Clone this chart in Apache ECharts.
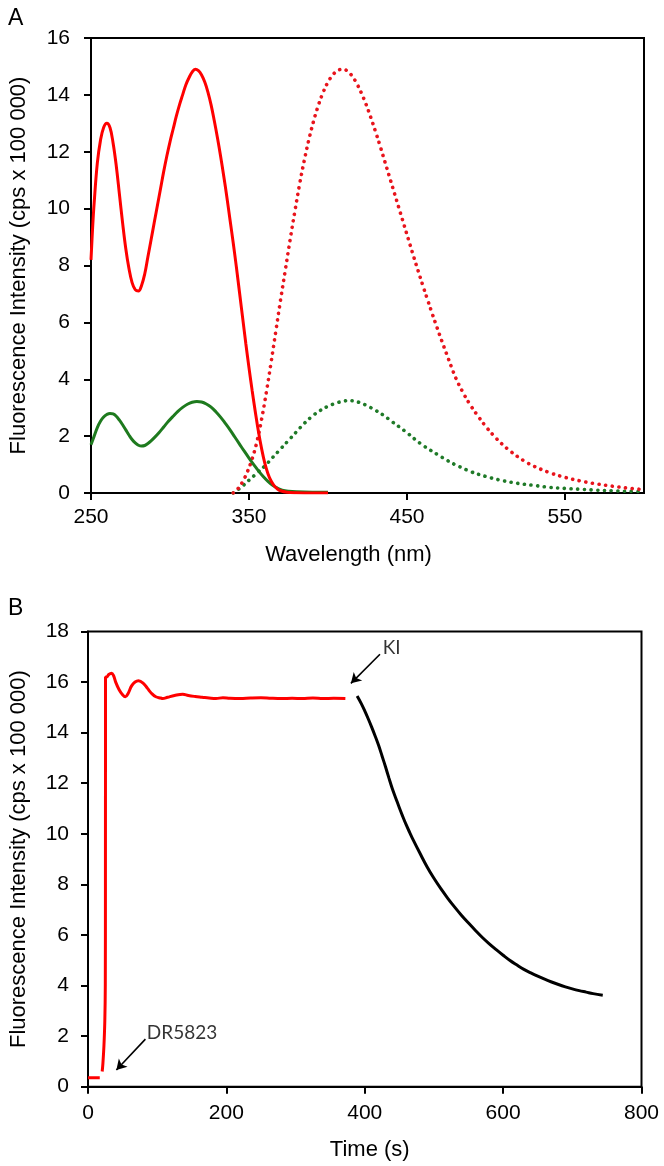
<!DOCTYPE html>
<html>
<head>
<meta charset="utf-8">
<script src="https://cdn.jsdelivr.net/npm/echarts@6/dist/echarts.min.js"></script>
<style>html,body{margin:0;padding:0;background:#fff}#c{width:664px;height:1166px}</style>
</head>
<body>
<div id="c"></div>
<script>
// ---------- Panel A data (wavelength nm, intensity x 100 000 cps) ----------
const excRedX = [250,251,252,254,256,258,260,262,264,266,268,270,272,274,276,278,280,282,284,286,288,290,292,294,296,298,300,302,304,306,308,310,312,314,316,318,320,322,324,326,328,330,332,334,336,338,340,342,344,346,348,350,352,354,356,358,360,362,364,366,368,370,374,380,390,400];
const excRedY = [8.2,9.3,10.2,11.6,12.4,12.85,13.0,12.85,12.3,11.5,10.5,9.5,8.6,7.9,7.4,7.15,7.1,7.3,7.7,8.3,8.9,9.5,10.1,10.7,11.3,11.85,12.35,12.8,13.25,13.65,14.0,14.35,14.6,14.8,14.9,14.85,14.7,14.45,14.1,13.65,13.1,12.5,11.85,11.15,10.4,9.6,8.8,7.95,7.05,6.15,5.25,4.4,3.6,2.85,2.15,1.55,1.05,0.68,0.42,0.25,0.14,0.08,0.03,0.01,0.0,0.0];

const excGreenX = [250,252,254,256,258,260,262,264,266,268,270,272,274,276,278,280,282,284,286,288,290,293,296,299,302,305,308,311,314,317,320,323,326,329,332,335,338,341,344,347,350,353,356,359,362,365,368,371,375,380,390,400];
const excGreenY = [1.7,2.0,2.3,2.52,2.67,2.76,2.8,2.78,2.7,2.56,2.4,2.22,2.04,1.88,1.76,1.68,1.65,1.67,1.74,1.83,1.94,2.12,2.32,2.52,2.7,2.87,3.01,3.12,3.19,3.22,3.2,3.13,3.02,2.86,2.67,2.45,2.22,1.97,1.72,1.47,1.23,1.0,0.78,0.58,0.41,0.27,0.17,0.1,0.06,0.04,0.03,0.03];

const emRedX = [340,343,346,349,352,355,358,361,364,367,370,373,376,379,382,385,388,391,394,397,400,403,406,409,412,415,418,421,424,427,430,433,436,439,442,445,448,451,454,457,460,463,466,469,472,475,478,481,485,490,495,500,505,510,515,520,525,530,540,550,560,570,580,590,600];
const emRedY = [0,0.15,0.4,0.75,1.2,1.8,2.6,3.55,4.6,5.7,6.8,7.85,8.9,9.9,10.85,11.7,12.45,13.1,13.65,14.1,14.45,14.7,14.85,14.9,14.85,14.68,14.42,14.08,13.68,13.22,12.72,12.2,11.65,11.1,10.55,10.0,9.45,8.9,8.35,7.82,7.3,6.8,6.3,5.82,5.35,4.9,4.45,4.03,3.58,3.1,2.7,2.33,2.01,1.73,1.49,1.28,1.1,0.95,0.72,0.55,0.42,0.32,0.24,0.17,0.12];

const emGreenX = [340,345,350,355,360,365,370,375,380,385,390,395,400,405,410,413,416,420,425,430,435,440,445,450,455,460,465,470,475,480,490,500,510,520,530,540,550,560,570,580,590,600];
const emGreenY = [0.0,0.2,0.45,0.7,0.95,1.25,1.55,1.85,2.15,2.45,2.7,2.9,3.05,3.16,3.23,3.25,3.24,3.18,3.06,2.91,2.74,2.53,2.33,2.12,1.89,1.68,1.5,1.33,1.16,1.01,0.76,0.58,0.44,0.34,0.27,0.2,0.16,0.13,0.1,0.08,0.06,0.05];

// ---------- Panel B data (time s, intensity x 100 000 cps) ----------
const baseX = [0,17];
const baseY = [0.35,0.35];
const riseX = [20.5,21.5,23,24.3,25,25.2,25.3,27,30,34,37,40,45,50,54,58,63,68,73,80,86,92,98,105,108,115,125,137,145,155,165,175,185,195,205,220,235,250,265,280,295,310,325,340,355,372];
const riseY = [0.6,0.9,1.6,2.6,4.0,8.0,16.2,16.2,16.3,16.35,16.25,16.0,15.7,15.5,15.42,15.55,15.85,16.0,16.05,15.95,15.75,15.55,15.42,15.37,15.35,15.4,15.47,15.52,15.47,15.43,15.4,15.37,15.35,15.38,15.36,15.35,15.37,15.38,15.36,15.35,15.36,15.35,15.37,15.35,15.36,15.35];
const decayX = [389,395,400,405,410,415,420,425,430,435,440,445,450,455,460,465,470,480,490,500,510,520,530,540,550,560,570,580,590,600,610,620,630,640,650,660,670,680,690,700,710,720,730,744];
const decayY = [15.45,15.15,14.86,14.55,14.22,13.87,13.5,13.08,12.65,12.2,11.77,11.4,11.03,10.68,10.35,10.05,9.76,9.22,8.7,8.24,7.83,7.45,7.1,6.77,6.47,6.18,5.9,5.65,5.42,5.2,4.99,4.81,4.64,4.5,4.37,4.25,4.14,4.04,3.95,3.87,3.8,3.74,3.68,3.62];

// ---------- Axis ticks & texts ----------
const axisA = {xMin:250, xMax:600, xStep:100, yMin:0, yMax:16, yStep:2};
const axisB = {xMin:0, xMax:800, xStep:200, yMin:0, yMax:18, yStep:2};
const yTitle = 'Fluorescence Intensity (cps x 100 000)';
const xTitleA = 'Wavelength (nm)';
const xTitleB = 'Time (s)';
// annotations (data coordinates in panel B): text anchor, arrow start, arrow end
const notes = [
  {text:'KI', at:[426,17.36], from:[422,17.1], to:[380,15.95]},
  {text:'DR5823', at:[85,2.12], from:[83,1.88], to:[41,0.66]}
];

const zip = (xs, ys) => xs.map((x,i) => [x, ys[i]]);

const FONT = 'Liberation Sans';
const RED = '#ff0000', GREEN = '#1e7a1e', REDDOT = '#e8141c', GREENDOT = '#1f7a28';

function xAxis(idx, ax, name, labelMargin, nameGap, namePad) {
  return {
    type:'value', gridIndex:idx, min:ax.xMin, max:ax.xMax, interval:ax.xStep,
    name:name, nameLocation:'middle', nameGap:nameGap,
    nameTextStyle:{fontFamily:FONT, fontSize:22, color:'#000', padding:namePad},
    axisLine:{show:true, onZero:false, lineStyle:{color:'#000', width:2}},
    axisTick:{show:true, inside:false, length:7, lineStyle:{color:'#000', width:2}},
    axisLabel:{fontFamily:FONT, fontSize:21, color:'#000', margin:labelMargin, showMaxLabel: idx===1},
    splitLine:{show:false}
  };
}
function yAxis(idx, ax, labelMargin, nameGap) {
  return {
    type:'value', gridIndex:idx, min:ax.yMin, max:ax.yMax, interval:ax.yStep,
    name:yTitle, nameLocation:'middle', nameGap:nameGap, nameRotate:90,
    nameTextStyle:{fontFamily:FONT, fontSize:22, color:'#000'},
    axisLine:{show:true, lineStyle:{color:'#000', width:2}},
    axisTick:{show:true, inside:false, length:7, lineStyle:{color:'#000', width:2}},
    axisLabel:{fontFamily:FONT, fontSize:21, color:'#000', margin:labelMargin},
    splitLine:{show:false}
  };
}

const solid = (c) => ({color:c, width:3});
const dotted = (c) => ({color:c, width:3.6, type:[0.1,6.6], cap:'round'});

function lineSeries(data, xi, ls) {
  return {type:'line', xAxisIndex:xi, yAxisIndex:xi, data:data, showSymbol:false, symbol:'none',
    smooth:0.4, lineStyle:ls, silent:true, animation:false, z:3};
}

const series = [
  lineSeries(zip(emGreenX, emGreenY), 0, dotted(GREENDOT)),
  lineSeries(zip(emRedX, emRedY), 0, dotted(REDDOT)),
  lineSeries(zip(excGreenX, excGreenY), 0, solid(GREEN)),
  lineSeries(zip(excRedX, excRedY), 0, solid(RED)),
  lineSeries(zip(baseX, baseY), 1, solid(RED)),
  lineSeries(zip(riseX, riseY), 1, solid(RED)),
  lineSeries(zip(decayX, decayY), 1, solid('#000')),
  {
    type:'scatter', xAxisIndex:1, yAxisIndex:1, symbolSize:0, silent:true, animation:false,
    data: notes.map(n => ({value:n.at, name:n.text})),
    label:{show:true, position:'right', distance:0, formatter:'{b}', fontFamily:'Lato', fontSize:19, color:'#000'},
    markLine:{
      silent:true, animation:false, symbol:['none','arrow'], symbolSize:[9,10],
      lineStyle:{color:'#000', width:1.6, type:'solid'}, label:{show:false},
      data: notes.map(n => [{coord:n.from}, {coord:n.to}])
    }
  }
];

const chart = echarts.init(document.getElementById('c'), null, {renderer:'canvas'});
chart.setOption({
  animation:false,
  backgroundColor:'#fff',
  title:[
    {text:'A', left:3, top:2, textStyle:{fontFamily:FONT, fontSize:23, fontWeight:'normal', color:'#000'}},
    {text:'B', left:3, top:592, textStyle:{fontFamily:FONT, fontSize:23, fontWeight:'normal', color:'#000'}}
  ],
  grid:[
    {left:85, top:38, width:559, height:455, show:true, borderColor:'#000', borderWidth:2, backgroundColor:'transparent'},
    {left:80.7, top:631.5, width:560.8, height:455.2, show:true, borderColor:'#000', borderWidth:2, backgroundColor:'transparent'}
  ],
  xAxis:[ xAxis(0, axisA, xTitleA, 14, 51, [0,38,0,0]), xAxis(1, axisB, xTitleB, 16, 52, [0,0,0,10]) ],
  yAxis:[ yAxis(0, axisA, 21, 61), yAxis(1, axisB, 19, 58) ],
  series: series
});
</script>
</body>
</html>
